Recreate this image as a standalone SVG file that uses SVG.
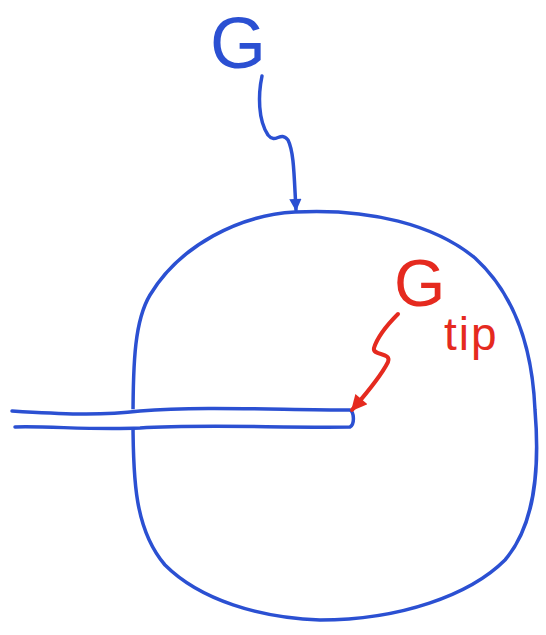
<svg xmlns="http://www.w3.org/2000/svg" width="546" height="635" viewBox="0 0 546 635">
<style>
.b{fill:none;stroke:#2b50d2;stroke-width:3.5;stroke-linecap:round;stroke-linejoin:round}
.r{fill:none;stroke:#e52a1f;stroke-width:4;stroke-linecap:round;stroke-linejoin:round}
.tb{font-family:"Liberation Sans",sans-serif;fill:#2b50d2}
.tr{font-family:"Liberation Sans",sans-serif;fill:#e52a1f}
</style>
<defs>
<marker id="ab" viewBox="0 0 10 10" refX="9" refY="5" markerWidth="7" markerHeight="3.5" orient="auto" markerUnits="strokeWidth"><path d="M0,0 L10,5 L0,10 Z" fill="#2b50d2"/></marker>
<marker id="ar" viewBox="0 0 10 10" refX="9" refY="5" markerWidth="6" markerHeight="4" orient="auto" markerUnits="strokeWidth"><path d="M0,0 L10,5 L0,10 Z" fill="#e52a1f"/></marker>
</defs>
<rect width="546" height="635" fill="#fff"/>
<g id="body">
<path class="b" d="M295,212 C240,215 180,245 150,295 C135,320 133,360 133,420 C133,480 135,530 165,565 C200,600 260,618 320,620 C400,620 470,595 505,560 C535,525 540,470 535,410 C532,340 510,290 475,258 C435,225 370,208 295,212 Z"/>
</g>
<g id="crack">
<path fill="#fff" stroke="none" d="M15,410 L350,408 L352,428 L15,428 Z"/>
<path class="b" d="M12,411 C60,414 100,416 140,411 C200,406 280,410 350,410 C354,412 355,424 350,427 C280,428 200,424 140,428 C90,430 50,426 15,427"/>
</g>
<g id="label-G">
<text class="tb" x="210" y="68" font-size="72">G</text>
</g>
<g id="label-Gtip">
<text class="tr" x="394" y="306" font-size="66">G</text>
<text class="tr" x="444" y="350" font-size="46" letter-spacing="2">tip</text>
</g>
<g id="connectors">
<path class="b" marker-end="url(#ab)" d="M262,76 C258,95 258,120 268,135 C276,145 280,130 288,140 C294,152 294,175 296,210"/>
<path class="r" marker-end="url(#ar)" d="M398,314 C390,322 378,335 374,348 C372,356 392,352 388,362 C380,378 365,395 352,410"/>
</g>
</svg>
